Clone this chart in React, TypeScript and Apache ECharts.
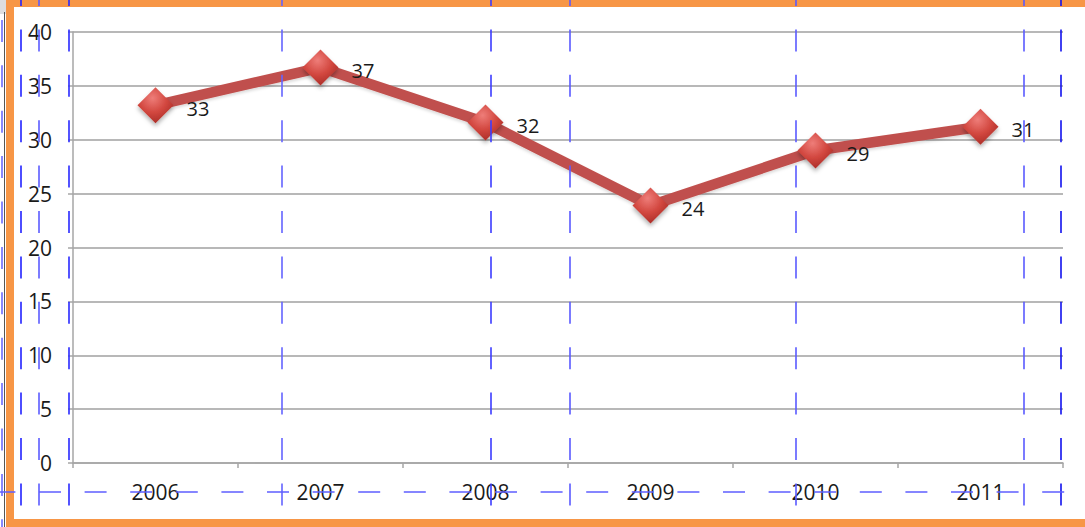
import React, { useEffect, useRef } from "react";
import * as echarts from "echarts";

const years = ["2006", "2007", "2008", "2009", "2010", "2011"];
const values = [33.2, 36.7, 31.6, 23.9, 29.0, 31.2];
const labelValues = [33, 37, 32, 24, 29, 31];
const yTicks = { min: 0, max: 40, interval: 5 };

const blueVLines: [number, number, string][] = [
  [2, -25.5, "#6b6bff"],
  [21, -16, "#2222ff"],
  [39, -16, "#5c5cff"],
  [69, -16, "#2a2aff"],
  [282, -16, "#6464ff"],
  [491, -16, "#3c3cff"],
  [570, -16, "#5a5aff"],
  [796, -16, "#5a5aff"],
  [1024, -16, "#5a5aff"],
  [1061, -16, "#1212ee"],
];

export default function App() {
  const ref = useRef<HTMLDivElement>(null);
  useEffect(() => {
    if (!ref.current) return;
    const chart = echarts.init(ref.current, null, { renderer: "svg" });
    const font = "'Open Sans', 'Noto Sans', sans-serif";
    const graphics: any[] = [];
    graphics.push({ type: "rect", shape: { x: 0, y: 0, width: 7, height: 14 }, style: { fill: "#dedede" }, z: 1 });
    graphics.push({ type: "line", shape: { x1: 4.5, y1: 12, x2: 4.5, y2: 527 }, style: { stroke: "#555", lineWidth: 1 }, z: 1 });
    graphics.push({ type: "rect", shape: { x: 6, y: 0, width: 1079, height: 7 }, style: { fill: "#f79646" }, z: 1 });
    graphics.push({ type: "rect", shape: { x: 6, y: 0, width: 8, height: 527 }, style: { fill: "#f79646" }, z: 1 });
    graphics.push({ type: "rect", shape: { x: 6, y: 519, width: 1079, height: 8 }, style: { fill: "#f79646" }, z: 1 });
    blueVLines.forEach(([x, start, c]) => {
      graphics.push({
        type: "line",
        shape: { x1: x, y1: start, x2: x, y2: 540 },
        style: { stroke: c, lineWidth: 1.6, lineDash: [22, 23.4] },
        z: 100,
      });
    });
    graphics.push({
      type: "line",
      shape: { x1: -6.6, y1: 492, x2: 1100, y2: 492 },
      style: { stroke: "#5f5fff", lineWidth: 1.6, lineDash: [22, 23.6] },
      z: 100,
    });

    chart.setOption({
      animation: false,
      backgroundColor: "#ffffff",
      grid: { left: 73, right: 22, top: 32, bottom: 64, containLabel: false },
      xAxis: {
        type: "category",
        data: years,
        boundaryGap: true,
        axisLine: { lineStyle: { color: "#a6a6a6", width: 1.5 } },
        axisTick: { show: true, length: 5, lineStyle: { color: "#a6a6a6", width: 1.5 } },
        axisLabel: { color: "#1a1a1a", fontSize: 21, fontFamily: font, margin: 18 },
        splitLine: { show: false },
      },
      yAxis: {
        type: "value",
        min: yTicks.min,
        max: yTicks.max,
        interval: yTicks.interval,
        axisLine: { show: true, lineStyle: { color: "#a6a6a6", width: 1.5 } },
        axisTick: { show: true, length: 5, lineStyle: { color: "#a6a6a6", width: 1.5 } },
        axisLabel: { color: "#1a1a1a", fontSize: 21, fontFamily: font, margin: 21 },
        splitLine: { show: true, lineStyle: { color: "#a0a0a0", width: 1.5 } },
      },
      graphic: graphics,
      series: [
        {
          type: "line",
          data: values,
          symbol: "diamond",
          symbolSize: 36,
          lineStyle: {
            color: "#c0504d",
            width: 10.5,
            shadowColor: "rgba(0,0,0,0.15)",
            shadowBlur: 3,
            shadowOffsetY: 2,
          },
          itemStyle: {
            color: new echarts.graphic.RadialGradient(0.42, 0.3, 0.8, [
              { offset: 0, color: "#ee7d79" },
              { offset: 0.5, color: "#d2473f" },
              { offset: 1, color: "#a02722" },
            ]),
            borderWidth: 0,
            shadowColor: "rgba(0,0,0,0.3)",
            shadowBlur: 4,
            shadowOffsetY: 3,
          },
          label: {
            show: true,
            position: "right",
            distance: 13,
            offset: [0, 3],
            color: "#1a1a1a",
            fontSize: 20,
            fontFamily: font,
            formatter: (p: any) => String(labelValues[p.dataIndex]),
          },
          z: 3,
        },
      ],
    });
    return () => chart.dispose();
  }, []);
  return (
    <div
      ref={ref}
      style={{ position: "fixed", left: 0, top: 0, width: 1085, height: 527 }}
    />
  );
}
